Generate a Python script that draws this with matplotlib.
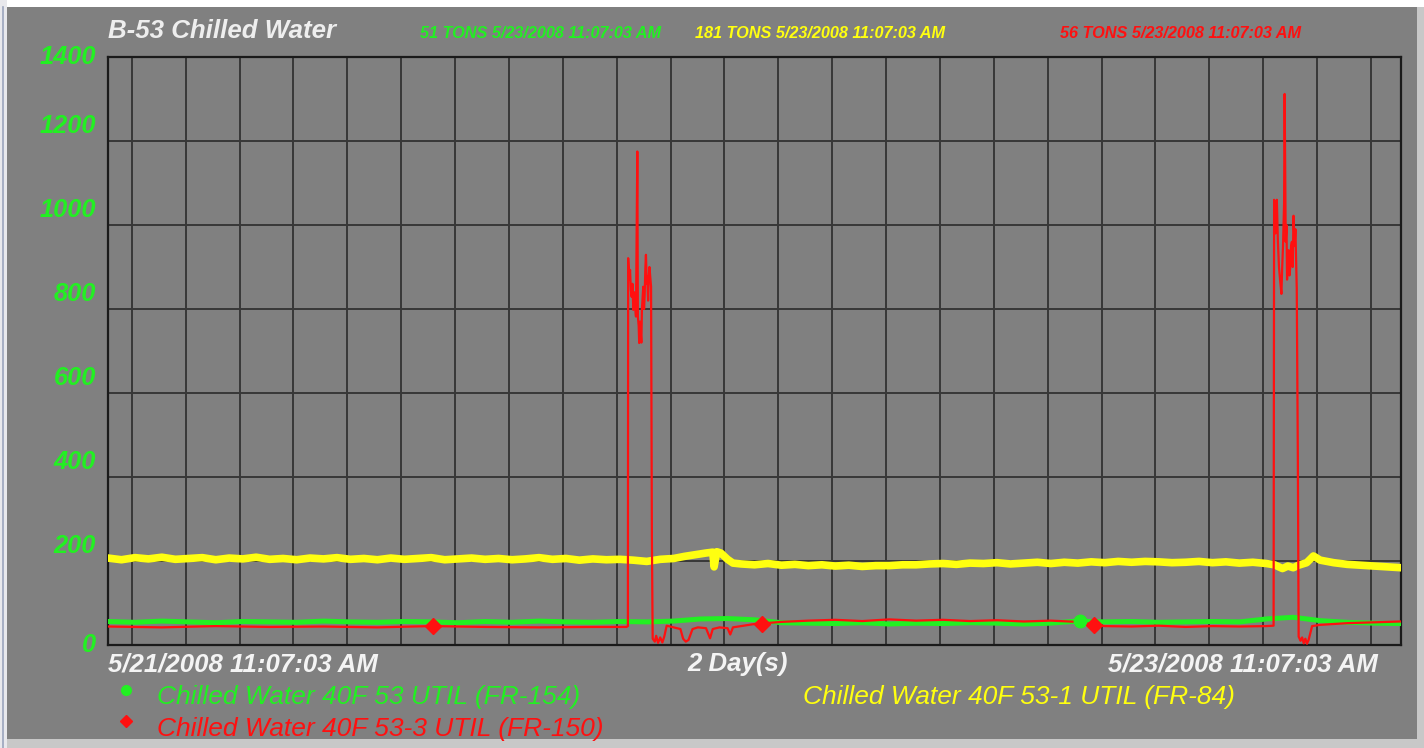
import matplotlib
matplotlib.use('Agg')
import matplotlib.pyplot as plt
import matplotlib.transforms as mtransforms
from matplotlib.patches import Rectangle
from matplotlib.lines import Line2D

# ---------------- data (hours since 5/21/2008 11:07:03 AM) ----------------
y_ticks = [0, 200, 400, 600, 800, 1000, 1200, 1400]
y_tick_labels = ['0', '200', '400', '600', '800', '1000', '1200', '1400']
x_start_label = '5/21/2008 11:07:03 AM'
x_mid_label = '2 Day(s)'
x_end_label = '5/23/2008 11:07:03 AM'
start_clock_hour = 11 + 7 / 60 + 3 / 3600
span_hours = 48

title = 'B-53 Chilled Water'
header_green = '51 TONS 5/23/2008 11:07:03 AM'
header_yellow = '181 TONS 5/23/2008 11:07:03 AM'
header_red = '56 TONS 5/23/2008 11:07:03 AM'
legend_green = 'Chilled Water 40F 53 UTIL (FR-154)'
legend_red = 'Chilled Water 40F 53-3 UTIL (FR-150)'
legend_yellow = 'Chilled Water 40F 53-1 UTIL (FR-84)'

# Yellow: FR-84
yellow_t = [i * 0.5 for i in range(39)] + [
    19.5, 20, 20.5, 21, 21.4, 21.8, 22.2, 22.45, 22.5, 22.6, 22.75, 23.0, 23.2, 23.5,
    24, 24.5, 25, 25.5, 26, 26.5, 27, 27.5, 28, 28.5, 29, 29.5, 30, 30.5, 31, 31.5,
    32, 32.5, 33, 33.5, 34, 34.5, 35, 35.5, 36, 36.5, 37, 37.5, 38, 38.5, 39, 39.5,
    40, 40.5, 41, 41.5, 42, 42.5, 43, 43.3, 43.6, 43.8, 44.0, 44.2, 44.5, 44.75, 45,
    45.5, 46, 46.5, 47, 47.5, 48]
yellow_v = [207, 203, 208, 205, 209, 204, 206, 208, 203, 207, 205, 209, 204, 206, 203,
            207, 205, 208, 204, 206, 203, 207, 204, 206, 208, 203, 205, 207, 204, 206,
            203, 205, 208, 204, 206, 202, 205, 203, 204] + [
    202, 199, 204, 206, 211, 215, 219, 221, 186, 222, 219, 204, 195, 193,
    191, 194, 190, 192, 189, 191, 188, 190, 187, 189, 189, 191, 191, 193, 194, 192,
    195, 194, 196, 193, 195, 197, 194, 197, 195, 198, 196, 199, 197, 199, 198, 196,
    197, 199, 196, 198, 195, 197, 194, 191, 182, 188, 184, 190, 196, 212, 202,
    196, 192, 190, 188, 186, 184]

# Green: FR-154 (hourly)
green_t = list(range(49))
green_v = [56, 54, 57, 55, 53, 56, 55, 54, 57, 55, 54, 56, 55, 53, 56, 54, 57, 55, 54,
           56, 55, 57, 62, 63, 60, 53, 52, 51, 53, 50, 52, 51, 53, 52, 50, 52, 57, 55,
           56, 54, 55, 56, 55, 62, 66, 58, 54, 52, 51]

# Red: FR-150
red_t = [0, 2, 4, 6, 8, 10, 12, 14, 16, 18, 19.25, 19.30,
         19.31, 19.35, 19.38, 19.41, 19.44, 19.47, 19.50, 19.53, 19.56, 19.60, 19.65,
         19.67, 19.70, 19.72, 19.75, 19.77, 19.80, 19.82, 19.85, 19.87, 19.90, 19.92,
         19.95, 19.97, 20.00, 20.02, 20.05, 20.07, 20.10, 20.12, 20.16, 20.19, 20.22,
         20.30, 20.35, 20.42, 20.50, 20.58, 20.65, 20.74, 21.0, 21.25, 21.35, 21.45,
         21.55, 21.7, 21.9, 22.2, 22.35, 22.45, 22.7, 23.0, 23.1, 23.2, 23.5, 24.0,
         25, 26, 27, 28, 29, 30, 31, 32, 33, 34, 35, 36, 36.5, 36.6, 37, 38, 39, 40,
         41, 42, 43, 43.27,
         43.29, 43.34, 43.39, 43.43, 43.47, 43.51, 43.56, 43.59, 43.62, 43.66, 43.68,
         43.72, 43.75, 43.77, 43.80, 43.83, 43.86, 43.89, 43.92, 43.95, 43.98, 44.01,
         44.05, 44.08, 44.13, 44.17, 44.20, 44.27, 44.33, 44.39, 44.45, 44.51, 44.57,
         44.64, 44.70, 45, 46, 47, 48]
red_v = [44, 42, 45, 43, 44, 42, 45, 43, 42, 43, 43, 45,
         921, 870, 893, 845, 829, 860, 798, 840, 814, 782, 1175,
         782, 760, 719, 770, 750, 720, 798, 830, 853, 800, 829,
         900, 929, 860, 877, 820, 871, 900, 885, 853, 258, 15,
         8, 22, 5, 18, 6, 20, 46, 42, 38, 15, 8,
         12, 38, 42, 40, 16, 38, 42, 40, 25, 42, 45, 50,
         55, 58, 60, 57, 61, 58, 60, 57, 59, 56, 58, 55, 50, 48, 45, 44, 46, 43,
         45, 44, 45, 46,
         1060, 980, 1060, 960, 900, 870, 836, 900, 950, 1050, 1312,
         960, 1000, 870, 920, 940, 880, 900, 950, 960, 900, 1022,
         950, 990, 849, 448, 20, 10, 18, 4, 15, 3, 12,
         30, 45, 48, 52, 54, 56]

# markers
red_marker_t = [12.06, 24.28, 36.6]
red_marker_v = [45, 50, 48]
green_marker_t = [36.08]
green_marker_v = [57]

# ---------------- styling ----------------
W, H = 1424, 748
GREEN = '#22f022'
YELLOW = '#ffff10'
RED = '#ff1010'
GRAY = '#808080'
FONT = 'Liberation Sans'

fig = plt.figure(figsize=(W / 100, H / 100), dpi=100, facecolor='#d0d0d0')


def fx(x):
    return x / W


def fy(y):
    return 1 - y / H


fig.patches.append(Rectangle((0, 0), 1, 1, transform=fig.transFigure,
                             facecolor='#c8c8c8', edgecolor='none', zorder=-3))
fig.patches.append(Rectangle((0, fy(7)), 1, 7 / H, transform=fig.transFigure,
                             facecolor='white', edgecolor='none', zorder=-2))
fig.patches.append(Rectangle((0, 0), fx(7), 1, transform=fig.transFigure,
                             facecolor='#e8e8ec', edgecolor='none', zorder=-2))
fig.add_artist(Line2D([fx(3), fx(3)], [0, fy(7)], transform=fig.transFigure,
                      color='#9aa4bc', lw=1.2, zorder=-1))
fig.patches.append(Rectangle((fx(7), fy(739)), (1417 - 7) / W, (739 - 7) / H,
                             transform=fig.transFigure, facecolor=GRAY,
                             edgecolor='none', zorder=-1))

ax = fig.add_axes([fx(108), fy(645), (1401 - 108) / W, (645 - 57) / H])
ax.set_facecolor(GRAY)
ax.set_xlim(0, span_hours)
ax.set_ylim(0, 1400)
ax.set_xticks([])
ax.set_yticks([])
for s in ax.spines.values():
    s.set_color('#1a1a1a')
    s.set_linewidth(1.6)

# grid: every 2 clock hours, every 200 tons
first = (2 - start_clock_hour % 2) % 2
grid_x = []
h = first
while h < span_hours:
    grid_x.append(h)
    h += 2
for gx in grid_x:
    ax.axvline(gx, color='#383838', lw=1.4, zorder=1)
for gy in y_ticks[1:-1]:
    ax.axhline(gy, color='#383838', lw=1.4, zorder=1)

ax.plot(yellow_t, yellow_v, color=YELLOW, lw=5.5, zorder=3)
ax.plot(green_t, green_v, color=GREEN, lw=3.6, zorder=4)
ax.plot(red_t, red_v, color=RED, lw=1.6, zorder=5)
ax.plot(green_marker_t, green_marker_v, 'o', color=GREEN, ms=9, zorder=6)
ax.plot(red_marker_t, red_marker_v, 'D', color=RED, ms=8, zorder=7)

# y tick labels
base = mtransforms.blended_transform_factory(fig.transFigure, ax.transData)
for v, lab in zip(y_ticks, y_tick_labels):
    dy = 0 if v in (0, 1400) else 15
    tr = mtransforms.offset_copy(base, fig=fig, x=0, y=dy, units='dots')
    ax.text(fx(96), v, lab, transform=tr, ha='right', va='center',
            color=GREEN, fontsize=18.3, fontweight='bold', style='italic',
            family=FONT, clip_on=False)

# titles
fig.text(fx(108), fy(31), title, ha='left', va='center', color='#eeeeee',
         fontsize=18.6, fontweight='bold', style='italic', family=FONT)
fig.text(fx(420), fy(33), header_green, ha='left', va='center', color=GREEN,
         fontsize=11.7, fontweight='bold', style='italic', family=FONT)
fig.text(fx(695), fy(33), header_yellow, ha='left', va='center', color=YELLOW,
         fontsize=11.7, fontweight='bold', style='italic', family=FONT)
fig.text(fx(1060), fy(33), header_red, ha='left', va='center', color=RED,
         fontsize=11.7, fontweight='bold', style='italic', family=FONT)

# x labels
fig.text(fx(108), fy(664), x_start_label, ha='left', va='center', color='#f4f4f4',
         fontsize=18.5, fontweight='bold', style='italic', family=FONT)
fig.text(fx(738), fy(664), x_mid_label, ha='center', va='center', color='#f4f4f4',
         fontsize=18.5, fontweight='bold', style='italic', family=FONT)
fig.text(fx(1378), fy(664), x_end_label, ha='right', va='center', color='#f4f4f4',
         fontsize=18.5, fontweight='bold', style='italic', family=FONT)

# legend
fig.add_artist(Line2D([fx(126)], [fy(690)], marker='o', color=GREEN, ms=7,
                      transform=fig.transFigure))
fig.add_artist(Line2D([fx(126)], [fy(721)], marker='D', color=RED, ms=6,
                      transform=fig.transFigure))
fig.text(fx(157), fy(697), legend_green, ha='left', va='center', color=GREEN,
         fontsize=19, style='italic', family=FONT)
fig.text(fx(157), fy(729), legend_red, ha='left', va='center', color=RED,
         fontsize=19, style='italic', family=FONT)
fig.text(fx(803), fy(697), legend_yellow, ha='left', va='center', color=YELLOW,
         fontsize=19, style='italic', family=FONT)

fig.savefig('out.png', dpi=100, facecolor=fig.get_facecolor())
